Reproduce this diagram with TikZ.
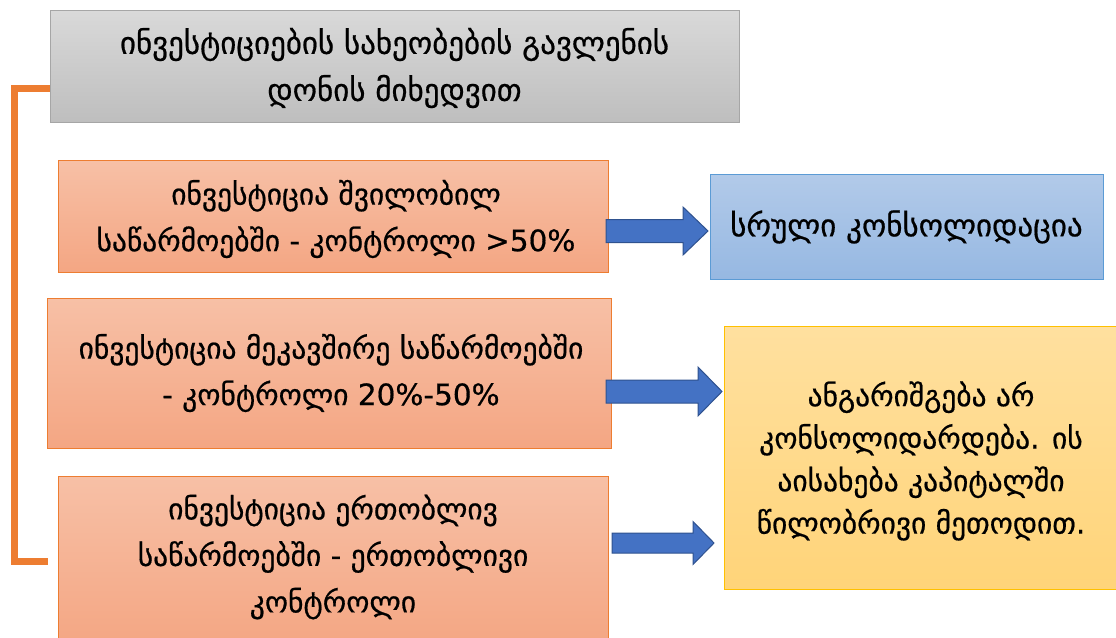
\documentclass[tikz,border=0pt]{standalone}
\usepackage{fontspec}
\setmainfont[FakeBold=0.6]{DejaVu Sans}
\usetikzlibrary{calc}
\definecolor{frameorange}{HTML}{ED7D31}
\definecolor{peachtop}{HTML}{F7C0A6}
\definecolor{peachbot}{HTML}{F4A683}
\definecolor{greytop}{HTML}{D9D9D9}
\definecolor{greybot}{HTML}{BEBEBE}
\definecolor{greyline}{HTML}{A6A6A6}
\definecolor{bluetop}{HTML}{B2CAE9}
\definecolor{bluebot}{HTML}{96B8E2}
\definecolor{blueline}{HTML}{5B9BD5}
\definecolor{goldtop}{HTML}{FFE09F}
\definecolor{goldbot}{HTML}{FFD479}
\definecolor{goldline}{HTML}{FFC000}
\definecolor{arrowfill}{HTML}{4472C4}
\definecolor{arrowline}{HTML}{2F528F}
\tikzset{
  box/.style={rectangle, anchor=north west, inner sep=0pt, line width=1pt},
  label/.style={align=center, inner sep=0pt, font=\fontsize{29.5}{46.5}\selectfont},
  greybox/.style={box, draw=greyline, top color=greytop, bottom color=greybot},
  peachbox/.style={box, draw=frameorange, top color=peachtop, bottom color=peachbot},
  bluebox/.style={box, draw=blueline, top color=bluetop, bottom color=bluebot},
  goldbox/.style={box, draw=goldline, top color=goldtop, bottom color=goldbot},
  blockarrow/.style={fill=arrowfill, draw=arrowline, line width=1pt, line join=miter},
  bracket/.style={draw=frameorange, line width=7pt, line join=miter},
}
% block arrow: start point, tip, half shaft height, half head height, head length
\newcommand\blockarrow[5]{%
  \path[blockarrow] ($(#1)+(0,-#3)$) -- ($(#2)+(-#5,-#3)$) -- ($(#2)+(-#5,-#4)$)
    -- (#2) -- ($(#2)+(-#5,#4)$) -- ($(#2)+(-#5,#3)$) -- ($(#1)+(0,#3)$) -- cycle;}
\begin{document}
\begin{tikzpicture}[x=1pt,y=-1pt]
\useasboundingbox (0,0) rectangle (1116,637);

% bracket joining the title to the three investment kinds
\coordinate (brtop) at (50,88);
\coordinate (brend) at (48,561);
\path[bracket] (brtop) -- (14,88) -- (14,561) -- (brend);

% title
\node[greybox, minimum width=689pt, minimum height=112pt] (title) at (50,10) {};
\node[label, font=\fontsize{31}{47}\selectfont] (titletext) at (394.5,68)
  {ინვესტიციების სახეობების გავლენის\\დონის მიხედვით};

% kinds of investment
\node[peachbox, minimum width=550pt, minimum height=112pt] (sub) at (58,160) {};
\node[label] (subtext) at (336,219)
  {ინვესტიცია შვილობილ\\საწარმოებში - კონტროლი >50\%};
\node[peachbox, minimum width=564pt, minimum height=150pt] (assoc) at (47,298) {};
\node[label] (assoctext) at (331,373)
  {ინვესტიცია მეკავშირე საწარმოებში\\- კონტროლი 20\%-50\%};
\node[peachbox, minimum width=550pt, minimum height=170pt] (joint) at (58,476) {};
\node[label] (jointtext) at (333,557)
  {ინვესტიცია ერთობლივ\\საწარმოებში - ერთობლივი\\კონტროლი};

% accounting treatment
\node[bluebox, minimum width=393pt, minimum height=105pt] (full) at (710,174) {};
\node[label, font=\fontsize{31}{47}\selectfont] (fulltext) at (906.5,227)
  {სრული კონსოლიდაცია};
\node[goldbox, minimum width=395pt, minimum height=263pt] (equity) at (724,326) {};
\node[label, font=\fontsize{29.5}{42.5}\selectfont] (equitytext) at (921,461)
  {ანგარიშგება არ\\კონსოლიდარდება. ის\\აისახება კაპიტალში\\წილობრივი მეთოდით.};

% arrows
\coordinate (a1s) at (606,231);
\coordinate (a1e) at (708,231);
\coordinate (a2s) at (606,391.5);
\coordinate (a2e) at (722,391.5);
\coordinate (a3s) at (612,543);
\coordinate (a3e) at (714,543);
\blockarrow{a1s}{a1e}{11.5}{24}{25}
\blockarrow{a2s}{a2e}{11.5}{24.5}{24}
\blockarrow{a3s}{a3e}{10}{21.5}{21}
\end{tikzpicture}
\end{document}
